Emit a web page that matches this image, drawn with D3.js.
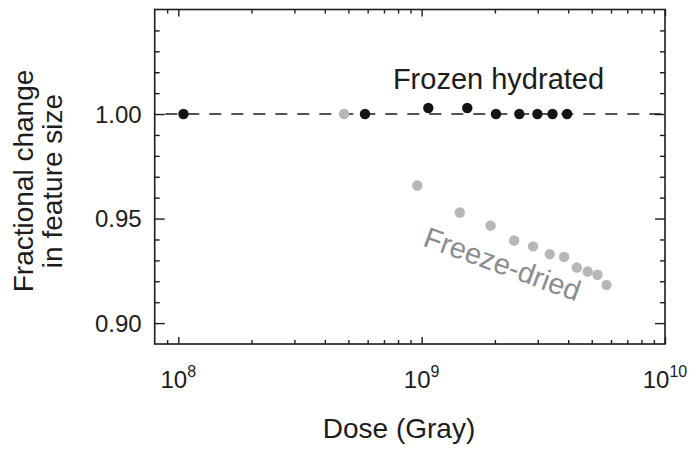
<!DOCTYPE html>
<html>
<head>
<meta charset="utf-8">
<script src="https://cdn.jsdelivr.net/npm/d3@7"></script>
<style>
  body { margin: 0; background: #fff; }
  svg { display: block; font-family: "Liberation Sans", Arial, Helvetica, sans-serif; }
</style>
</head>
<body>
<svg id="chart" width="699" height="454"></svg>
<script>
// frozen hydrated samples
var frozenDose = [1.05e8, 5.85e8, 1.065e9, 1.54e9, 2.02e9, 2.52e9, 2.99e9, 3.45e9, 3.96e9];
var frozenChange = [1.000, 1.000, 1.0029, 1.0029, 1.000, 1.000, 1.000, 1.000, 1.000];

// freeze-dried samples
var driedDose = [4.8e8, 9.6e8, 1.435e9, 1.92e9, 2.40e9, 2.87e9, 3.36e9, 3.85e9, 4.34e9, 4.81e9, 5.28e9, 5.75e9];
var driedChange = [1.000, 0.9658, 0.9529, 0.9466, 0.9395, 0.9367, 0.9330, 0.9316, 0.9266, 0.9247, 0.9231, 0.9183];

var xMajor = [1e8, 1e9, 1e10];
var xMajorExp = ["8", "9", "10"];
var xMinor = [9e7, 2e8, 3e8, 4e8, 5e8, 6e8, 7e8, 8e8, 9e8, 2e9, 3e9, 4e9, 5e9, 6e9, 7e9, 8e9, 9e9];
var yMajor = [0.90, 0.95, 1.00];
var yMinor = [0.91, 0.92, 0.93, 0.94, 0.96, 0.97, 0.98, 0.99, 1.01, 1.02, 1.03, 1.04];

// plot box (window.top is reserved, so these get their own names)
var plotLeft = 154.7, plotRight = 665, plotTop = 9.5, plotBottom = 344;
var ink = "#1c1c1c";

var svg = d3.select("#chart");

var xScale = d3.scaleLog().domain([8e7, 1e10]).range([plotLeft, plotRight]);
var yScale = d3.scaleLinear().domain([0.89, 1.05]).range([plotBottom, plotTop]);

function tickAxis(axis, pos, values, size) {
    var g = svg.append("g")
        .attr("transform", pos)
        .call(axis.tickValues(values).tickSize(size).tickFormat(""));
    g.select(".domain").remove();
    g.selectAll(".tick line").attr("stroke", ink).attr("stroke-width", 1.4);
    return g;
}

// ticks pointing inward on all four sides
tickAxis(d3.axisBottom(xScale), "translate(0," + plotBottom + ")", xMajor, -7);
tickAxis(d3.axisBottom(xScale), "translate(0," + plotBottom + ")", xMinor, -4);
tickAxis(d3.axisTop(xScale), "translate(0," + plotTop + ")", xMajor, -7);
tickAxis(d3.axisTop(xScale), "translate(0," + plotTop + ")", xMinor, -4);
tickAxis(d3.axisRight(yScale), "translate(" + plotRight + ",0)", yMajor, -10);
tickAxis(d3.axisRight(yScale), "translate(" + plotRight + ",0)", yMinor, -5);
tickAxis(d3.axisLeft(yScale), "translate(" + plotLeft + ",0)", yMinor, -5);

var yAxis = svg.append("g")
    .attr("transform", "translate(" + plotLeft + ",0)")
    .call(d3.axisLeft(yScale).tickValues(yMajor).tickSize(-10).tickPadding(13).tickFormat(d3.format(".2f")));
yAxis.select(".domain").remove();
yAxis.selectAll(".tick line").attr("stroke", ink).attr("stroke-width", 1.4);
yAxis.selectAll(".tick text")
    .attr("font-family", "Liberation Sans, Arial, sans-serif")
    .attr("font-size", 24)
    .attr("fill", ink)
    .attr("dy", "0.34em");

// x tick labels with superscript exponents
var xLabels = svg.append("g").selectAll("text")
    .data(xMajor)
    .enter()
    .append("text")
    .attr("x", d => xScale(d))
    .attr("y", 387.7)
    .attr("text-anchor", "middle")
    .attr("fill", ink);
xLabels.append("tspan").attr("font-size", 24).text("10");
xLabels.append("tspan")
    .attr("font-size", 16)
    .attr("dy", -10.7)
    .text((d, i) => xMajorExp[i]);

// frame
svg.append("rect")
    .attr("x", plotLeft)
    .attr("y", plotTop)
    .attr("width", plotRight - plotLeft)
    .attr("height", plotBottom - plotTop)
    .attr("fill", "none")
    .attr("stroke", ink)
    .attr("stroke-width", 1.6);

// reference line at 1.00
svg.append("line")
    .attr("x1", plotLeft)
    .attr("x2", plotRight)
    .attr("y1", yScale(1.0))
    .attr("y2", yScale(1.0))
    .attr("stroke", ink)
    .attr("stroke-width", 1.5)
    .attr("stroke-dasharray", "12,10")
    .attr("stroke-dashoffset", 11.4);

var dried = driedDose.map((d, i) => ({dose: d, change: driedChange[i]}));
var frozen = frozenDose.map((d, i) => ({dose: d, change: frozenChange[i]}));

svg.append("g").selectAll("circle")
    .data(dried)
    .enter()
    .append("circle")
    .attr("cx", d => xScale(d.dose))
    .attr("cy", d => yScale(d.change))
    .attr("r", 5.2)
    .attr("fill", "#b7b7bb");

svg.append("g").selectAll("circle")
    .data(frozen)
    .enter()
    .append("circle")
    .attr("cx", d => xScale(d.dose))
    .attr("cy", d => yScale(d.change))
    .attr("r", 5.2)
    .attr("fill", "#141414");

// series labels
svg.append("text")
    .attr("x", 498.5)
    .attr("y", 89)
    .attr("text-anchor", "middle")
    .attr("font-size", 29)
    .attr("fill", ink)
    .text("Frozen hydrated");

svg.append("text")
    .attr("transform", "translate(499,273.5) rotate(20)")
    .attr("text-anchor", "middle")
    .attr("font-size", 29)
    .attr("fill", "#8c8c90")
    .text("Freeze-dried");

// axis titles
svg.append("text")
    .attr("x", 399)
    .attr("y", 438)
    .attr("text-anchor", "middle")
    .attr("font-size", 28)
    .attr("fill", ink)
    .text("Dose (Gray)");

var yTitle = svg.append("text")
    .attr("transform", "translate(33,181) rotate(-90)")
    .attr("text-anchor", "middle")
    .attr("font-size", 28)
    .attr("fill", ink);
yTitle.append("tspan").attr("x", 0).attr("y", 0).text("Fractional change");
yTitle.append("tspan").attr("x", 0).attr("y", 29).text("in feature size");
</script>
</body>
</html>
